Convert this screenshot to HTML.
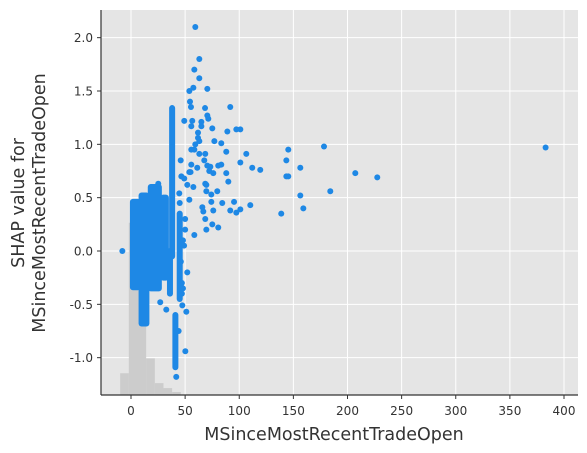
<!DOCTYPE html>
<html><head><meta charset="utf-8"><style>
html,body{margin:0;padding:0;background:#fff;}
svg{display:block;font-family:"DejaVu Sans","Liberation Sans",sans-serif;}
</style></head><body>
<svg id="chart" width="587" height="453" viewBox="0 0 587 453" xmlns="http://www.w3.org/2000/svg">
<rect x="101" y="10" width="477" height="385" fill="#e5e5e5"/>
<g id="grid"></g><g id="hist"></g><g id="points"></g><g id="axes"></g>
</svg>
<script>
const xTicks=[0,50,100,150,200,250,300,350,400];
const yTicks=[-1.0,-0.5,0.0,0.5,1.0,1.5,2.0];
const histEdges=[-10,-2,6,14,22,30,38,46];
const histCounts=[22,174,174,37,12,7,3];
const colX=[4,12,22,31,38,41,36,45];
const colLo=[-0.34,-0.68,-0.35,-0.25,-0.05,-1.09,-0.4,-0.45];
const colHi=[0.46,0.52,0.6,0.5,1.34,-0.6,0.0,0.35];
const colW=[10,10,13,8,2.5,2.5,3,2];
const ptX=[59.4,63.1,58.5,63.1,53.9,57.6,70.5,54.5,55.4,68.4,91.7,49.2,56.6,55.7,65,65,70.5,71.4,75.1,89,97.3,101,61.9,61.9,63.1,59.4,55.7,58.5,77,83.4,88,106.5,145.3,178.3,63.1,68.6,67.7,45.9,101,143.5,55.7,70.5,73.3,80.6,83.4,61.2,112,119.4,156.4,72.3,76,53.9,55,88,207.2,227.5,143.5,145.3,46.5,49.2,89.9,68.6,69.6,52,57.6,184.1,156.4,69.6,74.2,79.7,44.6,53.9,74.2,84.3,95.2,110.2,65.9,66.8,76,91.7,97.3,101,138.8,159.2,68.6,75.1,80.6,69.6,58.5,25.2,27,32.6,47.4,51.1,50.2,41.8,-8,383,48,52,47,50,44,47,49,46,50,45,48];
const ptY=[2.10,1.80,1.70,1.62,1.50,1.53,1.52,1.40,1.35,1.34,1.35,1.22,1.22,1.17,1.21,1.17,1.27,1.24,1.15,1.12,1.14,1.14,1.11,1.06,1.03,1.0,0.95,0.95,1.03,1.01,0.93,0.91,0.95,0.98,0.91,0.91,0.85,0.85,0.83,0.85,0.81,0.80,0.79,0.80,0.81,0.78,0.78,0.76,0.78,0.75,0.73,0.74,0.74,0.73,0.73,0.69,0.70,0.70,0.70,0.68,0.65,0.63,0.62,0.62,0.60,0.56,0.52,0.56,0.53,0.56,0.54,0.48,0.46,0.45,0.46,0.43,0.41,0.37,0.38,0.38,0.36,0.39,0.35,0.40,0.30,0.25,0.22,0.20,0.15,0.63,-0.48,-0.55,-0.51,-0.57,-0.94,-1.18,0.0,0.97,0.1,-0.2,-0.3,0.3,-0.75,-0.4,0.05,-0.1,0.2,0.45,-0.35];
const NS="http://www.w3.org/2000/svg";
const X0=101,X1=578,Y0=10,Y1=395;
const xScale=v=>131+v*1.0825;
const yScale=v=>251-v*106.67;
const hScale=c=>c*0.99;
function mk(tag,attrs,parent){const e=document.createElementNS(NS,tag);for(const k in attrs)e.setAttribute(k,attrs[k]);parent.appendChild(e);return e;}
const grid=document.getElementById('grid'),hist=document.getElementById('hist'),pts=document.getElementById('points'),axes=document.getElementById('axes');
xTicks.forEach(t=>{const x=xScale(t);
 const g=mk('line',{x1:x,x2:x,y1:Y0,y2:Y1,stroke:'#fff','stroke-width':1},grid);
 
 
 mk('line',{x1:x,x2:x,y1:Y1,y2:Y1+4,stroke:'#333'},axes);
 const l=mk('text',{x:x,y:Y1+20,'text-anchor':'middle','font-size':12,fill:'#333'},axes);l.textContent=t;
 
 });
yTicks.forEach(t=>{const y=yScale(t);
 const g=mk('line',{x1:X0,x2:X1,y1:y,y2:y,stroke:'#fff','stroke-width':1},grid);
 
 
 mk('line',{x1:X0-4,x2:X0,y1:y,y2:y,stroke:'#333'},axes);
 const l=mk('text',{x:X0-8,y:y+4.5,'text-anchor':'end','font-size':12,fill:'#333'},axes);l.textContent=t.toFixed(1);
 
 });
histCounts.forEach((c,i)=>{const x=xScale(histEdges[i]),w=xScale(histEdges[i+1])-x,h=hScale(c);
 const r=mk('rect',{x:x,y:Y1-h,width:w,height:h,fill:'#cccccc'},hist);
 
 });
colX.forEach((cx,i)=>{const x=xScale(cx),w=Math.max(6,colW[i]*1.0825);
 const r=mk('rect',{x:x-w/2,y:yScale(colHi[i])-3,width:w,height:yScale(colLo[i])-yScale(colHi[i])+6,rx:3,fill:'#1e88e5'},pts);
 
 });
ptX.forEach((px,i)=>{const c=mk('circle',{cx:xScale(px),cy:yScale(ptY[i]),r:3,fill:'#1e88e5'},pts);
 
 });
const sp1=mk('line',{x1:X0,x2:X0,y1:Y0,y2:Y1,stroke:'#333','stroke-width':1.2},axes);


const sp2=mk('line',{x1:X0,x2:X1,y1:Y1,y2:Y1,stroke:'#333','stroke-width':1.2},axes);


const xl=mk('text',{x:334,y:440,'text-anchor':'middle','font-size':17.5,fill:'#333'},axes);xl.textContent='MSinceMostRecentTradeOpen';


const yl=mk('text',{transform:'translate(24,203) rotate(-90)','text-anchor':'middle','font-size':17.5,fill:'#333'},axes);


const t1=mk('tspan',{x:0,dy:0},yl);t1.textContent='SHAP value for';
const t2=mk('tspan',{x:0,dy:21},yl);t2.textContent='MSinceMostRecentTradeOpen';
</script>
</body></html>
